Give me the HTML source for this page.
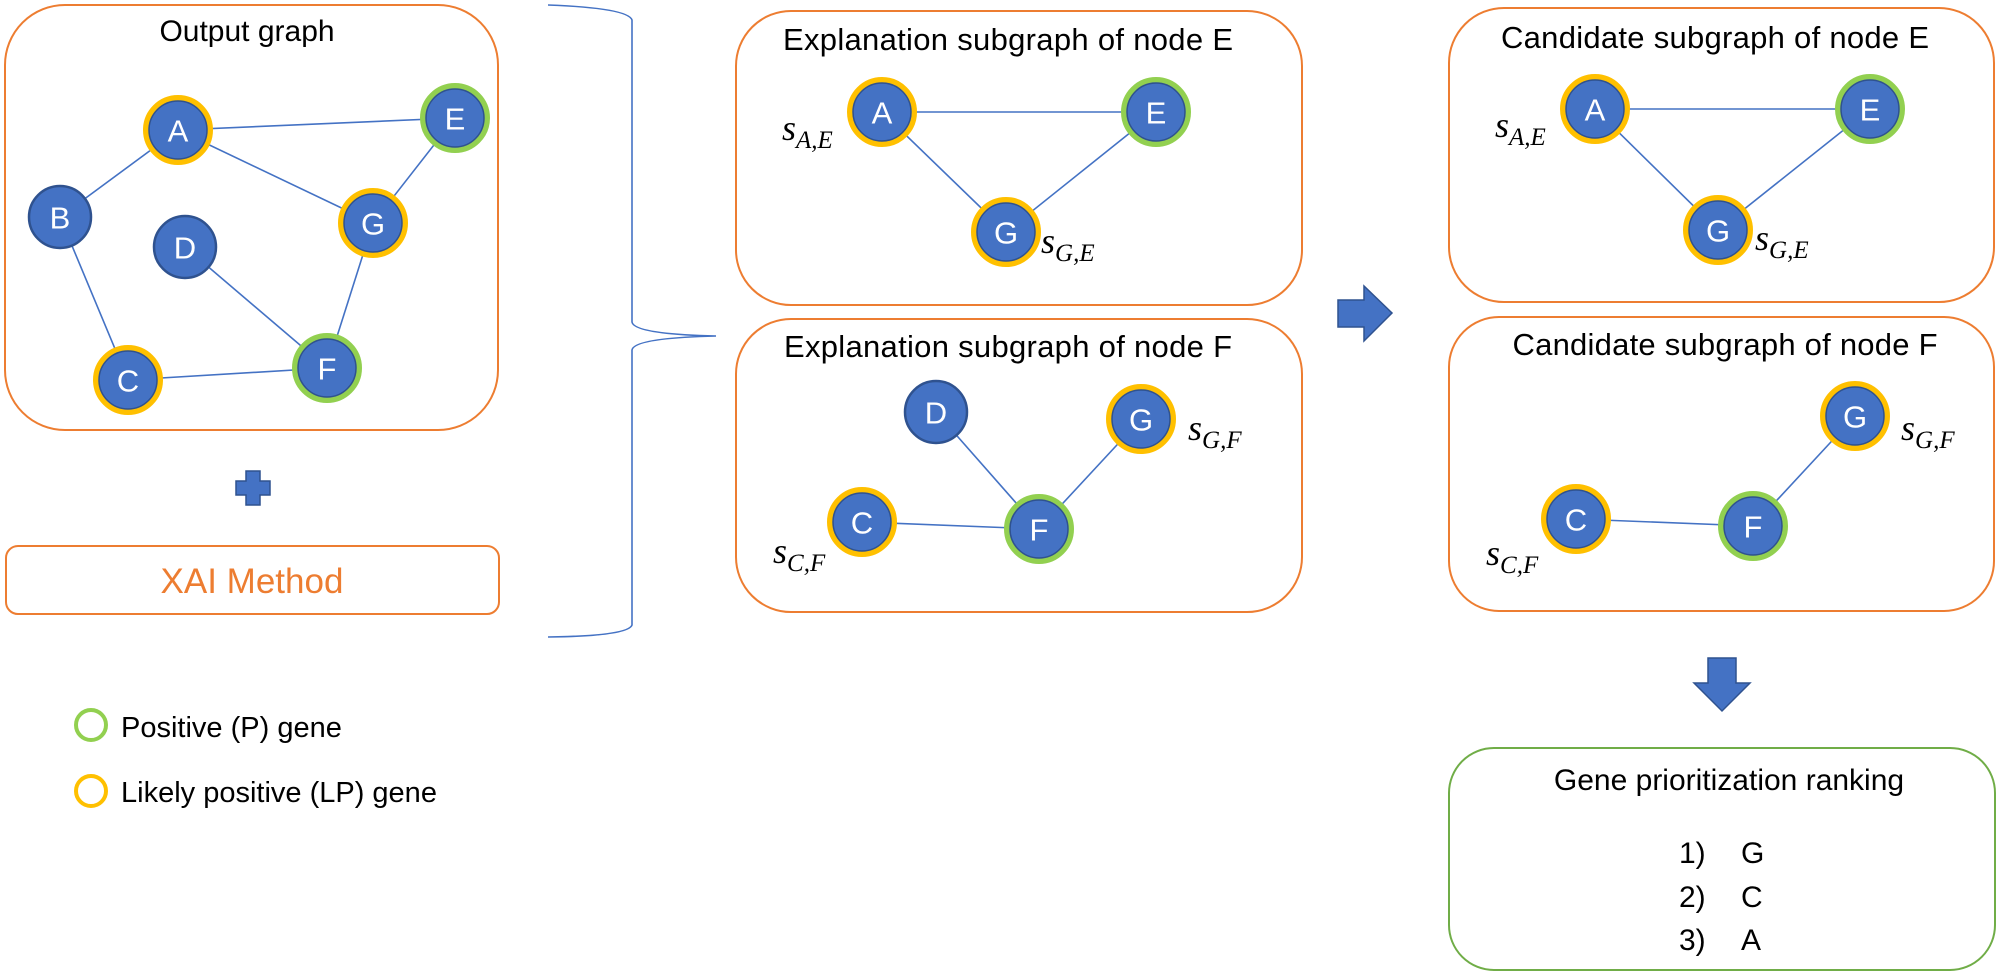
<!DOCTYPE html>
<html><head><meta charset="utf-8"><style>
html,body{margin:0;padding:0;background:#fff;}
svg{display:block;}
text{font-family:"Liberation Sans",Arial,sans-serif;}
.t{font-size:31px;fill:#000;text-anchor:middle;}
.n{font-size:31px;fill:#fff;text-anchor:middle;dominant-baseline:central;}
.s{font-family:"Liberation Serif",serif;font-style:italic;font-size:36px;fill:#000;}
.sub{font-size:25px;}
.e{stroke:#4472C4;stroke-width:1.6;}
</style></head><body>
<svg width="2000" height="976" viewBox="0 0 2000 976" xmlns="http://www.w3.org/2000/svg">
<defs>
<g id="ny"><circle r="32" fill="#4472C4" stroke="#FFC000" stroke-width="6"/><circle r="29" fill="none" stroke="#2F528F" stroke-width="1.5"/></g>
<g id="ng"><circle r="32" fill="#4472C4" stroke="#92D050" stroke-width="6"/><circle r="29" fill="none" stroke="#2F528F" stroke-width="1.5"/></g>
<g id="np"><circle r="31" fill="#4472C4" stroke="#2F528F" stroke-width="2.5"/></g>
</defs>

<!-- Output graph -->
<rect x="5" y="5" width="493" height="425" rx="60" fill="none" stroke="#ED7D31" stroke-width="2"/>
<text class="t" x="247" y="41" style="font-size:30px">Output graph</text>
<g class="e">
<line x1="178" y1="130" x2="455" y2="118"/>
<line x1="178" y1="130" x2="60" y2="217"/>
<line x1="178" y1="130" x2="373" y2="223"/>
<line x1="455" y1="118" x2="373" y2="223"/>
<line x1="60" y1="217" x2="128" y2="380"/>
<line x1="185" y1="247" x2="327" y2="368"/>
<line x1="373" y1="223" x2="327" y2="368"/>
<line x1="128" y1="380" x2="327" y2="368"/>
</g>
<use href="#ny" x="178" y="130"/><text class="n" x="178" y="131">A</text>
<use href="#ng" x="455" y="118"/><text class="n" x="455" y="119">E</text>
<use href="#np" x="60" y="217"/><text class="n" x="60" y="218">B</text>
<use href="#np" x="185" y="247"/><text class="n" x="185" y="248">D</text>
<use href="#ny" x="373" y="223"/><text class="n" x="373" y="224">G</text>
<use href="#ng" x="327" y="368"/><text class="n" x="327" y="369">F</text>
<use href="#ny" x="128" y="380"/><text class="n" x="128" y="381">C</text>

<!-- plus -->
<path d="M246 471 h14 v10 h10 v14 h-10 v10 h-14 v-10 h-10 v-14 h10 z" fill="#4472C4" stroke="#2F528F" stroke-width="1.5"/>

<!-- XAI -->
<rect x="6" y="546" width="493" height="68" rx="12" fill="none" stroke="#ED7D31" stroke-width="2"/>
<text x="252" y="593" text-anchor="middle" style="font-size:35px;fill:#ED7D31">XAI Method</text>

<!-- brace -->
<path d="M548 5 Q628 8 632 20 L632 322 Q634 334 716 336 Q634 338 632 350 L632 625 Q628 636 548 637" fill="none" stroke="#4472C4" stroke-width="1.6"/>

<!-- legend -->
<circle cx="91" cy="725" r="15" fill="none" stroke="#92D050" stroke-width="4"/>
<text x="121" y="737" style="font-size:29px">Positive (P) gene</text>
<circle cx="91" cy="791" r="15" fill="none" stroke="#FFC000" stroke-width="4"/>
<text x="121" y="802" style="font-size:29px">Likely positive (LP) gene</text>

<!-- Explanation E -->
<rect x="736" y="11" width="566" height="294" rx="55" fill="none" stroke="#ED7D31" stroke-width="2"/>
<text class="t" x="1008" y="50" textLength="450">Explanation subgraph of node E</text>
<g class="e">
<line x1="882" y1="112" x2="1156" y2="112"/>
<line x1="882" y1="112" x2="1006" y2="232"/>
<line x1="1156" y1="112" x2="1006" y2="232"/>
</g>
<use href="#ny" x="882" y="112"/><text class="n" x="882" y="113">A</text>
<use href="#ng" x="1156" y="112"/><text class="n" x="1156" y="113">E</text>
<use href="#ny" x="1006" y="232"/><text class="n" x="1006" y="233">G</text>
<text class="s" x="782" y="140">s<tspan class="sub" dy="8">A,E</tspan></text>
<text class="s" x="1041" y="253">s<tspan class="sub" dy="8">G,E</tspan></text>

<!-- Explanation F -->
<rect x="736" y="319" width="566" height="293" rx="55" fill="none" stroke="#ED7D31" stroke-width="2"/>
<text class="t" x="1008" y="357" textLength="448">Explanation subgraph of node F</text>
<g class="e">
<line x1="936" y1="412" x2="1039" y2="529"/>
<line x1="1141" y1="419" x2="1039" y2="529"/>
<line x1="862" y1="522" x2="1039" y2="529"/>
</g>
<use href="#np" x="936" y="412"/><text class="n" x="936" y="413">D</text>
<use href="#ny" x="1141" y="419"/><text class="n" x="1141" y="420">G</text>
<use href="#ny" x="862" y="522"/><text class="n" x="862" y="523">C</text>
<use href="#ng" x="1039" y="529"/><text class="n" x="1039" y="530">F</text>
<text class="s" x="1188" y="440">s<tspan class="sub" dy="8">G,F</tspan></text>
<text class="s" x="773" y="563">s<tspan class="sub" dy="8">C,F</tspan></text>

<!-- right arrow -->
<path d="M1338 300 H1364 V286 L1392 313 L1364 341 V327 H1338 Z" fill="#4472C4" stroke="#2F528F" stroke-width="1.5"/>

<!-- Candidate E -->
<rect x="1449" y="8" width="545" height="294" rx="55" fill="none" stroke="#ED7D31" stroke-width="2"/>
<text class="t" x="1715" y="48" textLength="428">Candidate subgraph of node E</text>
<g class="e">
<line x1="1595" y1="109" x2="1870" y2="109"/>
<line x1="1595" y1="109" x2="1718" y2="230"/>
<line x1="1870" y1="109" x2="1718" y2="230"/>
</g>
<use href="#ny" x="1595" y="109"/><text class="n" x="1595" y="110">A</text>
<use href="#ng" x="1870" y="109"/><text class="n" x="1870" y="110">E</text>
<use href="#ny" x="1718" y="230"/><text class="n" x="1718" y="231">G</text>
<text class="s" x="1495" y="137">s<tspan class="sub" dy="8">A,E</tspan></text>
<text class="s" x="1755" y="250">s<tspan class="sub" dy="8">G,E</tspan></text>

<!-- Candidate F -->
<rect x="1449" y="317" width="545" height="294" rx="50" fill="none" stroke="#ED7D31" stroke-width="2"/>
<text class="t" x="1725" y="355" textLength="425">Candidate subgraph of node F</text>
<g class="e">
<line x1="1855" y1="416" x2="1753" y2="526"/>
<line x1="1576" y1="519" x2="1753" y2="526"/>
</g>
<use href="#ny" x="1855" y="416"/><text class="n" x="1855" y="417">G</text>
<use href="#ny" x="1576" y="519"/><text class="n" x="1576" y="520">C</text>
<use href="#ng" x="1753" y="526"/><text class="n" x="1753" y="527">F</text>
<text class="s" x="1901" y="440">s<tspan class="sub" dy="8">G,F</tspan></text>
<text class="s" x="1486" y="565">s<tspan class="sub" dy="8">C,F</tspan></text>

<!-- down arrow -->
<path d="M1708 658 H1736 V683 H1750 L1722 711 L1694 683 H1708 Z" fill="#4472C4" stroke="#2F528F" stroke-width="1.5"/>

<!-- Gene ranking -->
<rect x="1449" y="748" width="546" height="222" rx="45" fill="none" stroke="#70AD47" stroke-width="2"/>
<text class="t" x="1729" y="790" style="font-size:30px">Gene prioritization ranking</text>
<g style="font-size:30px">
<text x="1679" y="863">1)</text><text x="1741" y="863">G</text>
<text x="1679" y="907">2)</text><text x="1741" y="907">C</text>
<text x="1679" y="950">3)</text><text x="1741" y="950">A</text>
</g>
</svg>
</body></html>
